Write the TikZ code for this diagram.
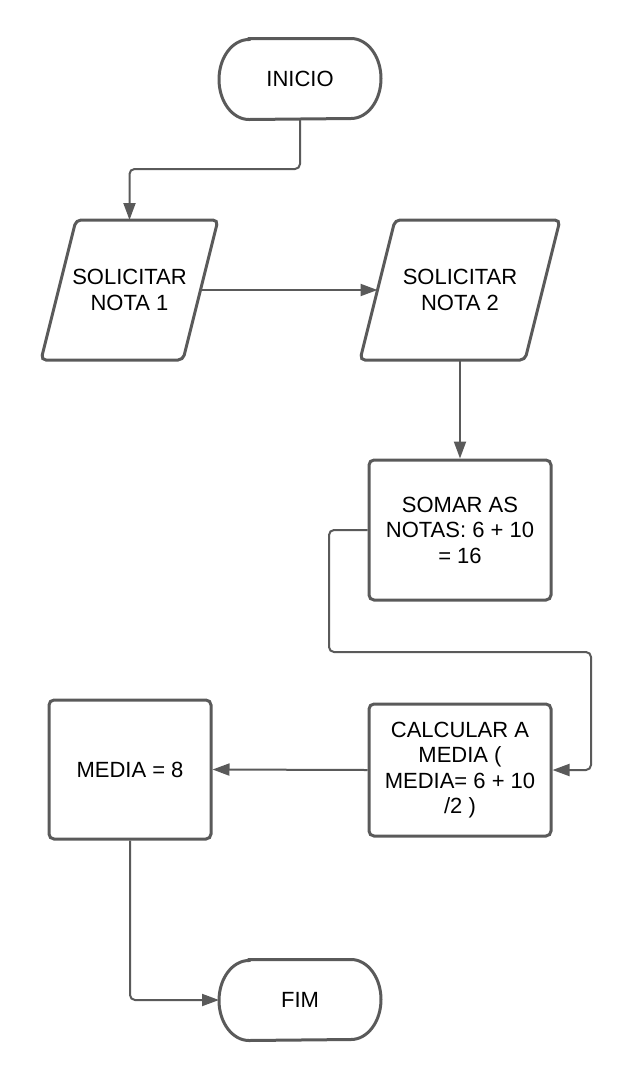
\documentclass[tikz,border=0pt]{standalone}
\usepackage{fontspec}
\setmainfont{Liberation Sans}
\usetikzlibrary{arrows.meta}
\definecolor{lc}{HTML}{5A5A5A}
\newcommand\termoutline[1]{%
  \draw[shapeline] ([xshift=30pt]#1.north west) -- ([xshift=-30pt]#1.north east)
    arc[start angle=90,end angle=-90,x radius=30pt,y radius=40pt]
    -- ([xshift=30pt]#1.south west)
    arc[start angle=270,end angle=90,x radius=30pt,y radius=40pt] -- cycle;}
\newcommand\paraoutline[1]{%
  \draw[shapeline,rounded corners=5pt] ([xshift=17.5pt]#1.north west) -- ([xshift=17.5pt]#1.north east)
    -- ([xshift=-17.5pt]#1.south east) -- ([xshift=-17.5pt]#1.south west) -- cycle;}
\tikzset{
  shapeline/.style={draw=lc,line width=3pt},
  txt/.style={font=\fontsize{22}{25.5}\selectfont,align=center,text=black},
  term/.style={txt,inner sep=0pt,outer sep=0pt,minimum width=162pt,minimum height=81pt},
  iobox/.style={txt,rectangle,inner sep=0pt,outer sep=0pt,minimum height=140pt},
  procbox/.style={txt,shapeline,rectangle,rounded corners=5pt,inner sep=0pt},
  conn/.style={draw=lc,line width=2pt,rounded corners=5pt,-{Triangle[length=17pt,width=12pt]}},
}
\begin{document}
\begin{tikzpicture}[x=1pt,y=-1pt]
\useasboundingbox (0,0) rectangle (632,1080);
\node[term] (ini) at (300,79) {INICIO};
\termoutline{ini}
\node[iobox,minimum width=142pt] (p1) at (129.5,290) {SOLICITAR\\NOTA 1};
\paraoutline{p1}
\node[iobox,minimum width=165pt] (p2) at (460,290) {SOLICITAR\\NOTA 2};
\paraoutline{p2}
\node[procbox,minimum width=182pt,minimum height=140pt] (somar) at (460,530) {SOMAR AS\\NOTAS: 6 + 10\\= 16};
\node[procbox,minimum width=182pt,minimum height=132pt] (calc) at (460,770) {CALCULAR A\\MEDIA (\\MEDIA= 6 + 10\\/2 )};
\node[procbox,minimum width=162pt,minimum height=139pt] (media) at (130,769.5) {MEDIA = 8};
\node[term] (fim) at (300,1000) {FIM};
\termoutline{fim}
\coordinate (b1) at (300,169);
\coordinate (l1) at (329,530);
\coordinate (l2) at (329,652);
\coordinate (l3) at (591,652);
\coordinate (l4) at (591,770);
\draw[conn] (ini.south) -- (b1) -| (p1.north);
\draw[conn] (p1.east) -- (p2.west);
\draw[conn] (p2.south) -- (somar.north);
\draw[conn] (somar.west) -- (l1) -- (l2) -- (l3) -- (l4) -- (calc.east);
\draw[conn] (calc.west) -- (media.east);
\draw[conn] (media.south) |- (fim.west);
\end{tikzpicture}
\end{document}
